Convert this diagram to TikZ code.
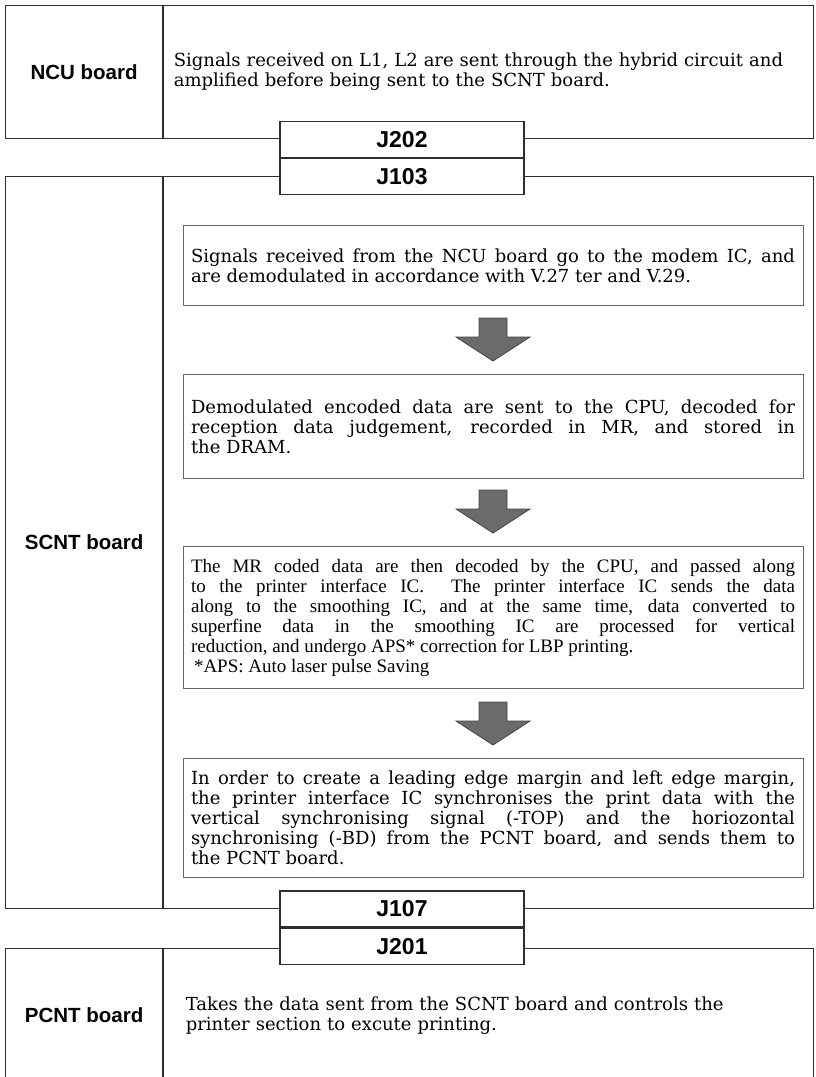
\documentclass[tikz,border=0pt]{standalone}
\usepackage{fontspec}
\setmainfont{DejaVu Serif}
\setsansfont{Liberation Sans}
\newfontfamily\timesfont{Liberation Serif}
\usetikzlibrary{positioning}

\definecolor{boardline}{HTML}{2E2E2E}
\definecolor{boxline}{HTML}{666666}
\definecolor{arrowgrey}{HTML}{6B6B6B}
\definecolor{arrowedge}{HTML}{454545}

\begin{document}
\begin{tikzpicture}[x=1pt, y=-1pt,
    boardname/.style={draw=boardline, line width=1.2pt, minimum width=157pt, inner sep=0pt, anchor=north west, font=\sffamily\bfseries\fontsize{20.5}{24}\selectfont},
    boardbody/.style={draw=boardline, line width=1.2pt, minimum width=650pt, inner xsep=10pt, text width=630pt, align=left, font=\fontsize{18}{20}\selectfont},
    jack/.style={draw=boardline, line width=1.2pt, fill=white, minimum width=244pt, minimum height=36pt, inner sep=0pt, font=\sffamily\bfseries\fontsize{23}{26}\selectfont},
    stepbox/.style={draw=boxline, line width=1pt, minimum width=620pt, inner xsep=8pt, text width=604pt, align=justify, anchor=north, font=\fontsize{18}{20}\selectfont},
    flowarrow/.pic={\fill[arrowgrey, draw=arrowedge, line width=0.8pt] (-14,0) -- (14,0) -- (14,19) -- (37,19) -- (0,43) -- (-37,19) -- (-14,19) -- cycle;}
]
  \useasboundingbox (0,0) rectangle (816,1077);
  \fill[white] (0,0) rectangle (816,1077);
  \clip (0,0) rectangle (816,1077);

  % Boards
  \node[boardname, minimum height=133pt] (ncuname) at (5,5) {NCU board};
  \node[boardbody, minimum height=133pt, right=0pt of ncuname] (ncu) {Signals received on L1, L2 are sent through the hybrid circuit and\\amplified before being sent to the SCNT board.};

  \node[boardname, minimum height=732pt] (scntname) at (5,176) {SCNT board};
  \node[boardbody, minimum height=732pt, right=0pt of scntname] (scnt) {};

  \node[boardname, minimum height=134pt] (pcntname) at (5,948) {PCNT board};
  \node[boardbody, minimum height=134pt, inner xsep=22pt, text width=606pt, right=0pt of pcntname] (pcnt) {Takes the data sent from the SCNT board and controls the\\printer section to excute printing.};

  % Connectors
  \node[jack] (j202) at (402,139.5) {J202};
  \node[jack, below=0pt of j202] (j103) {J103};
  \node[jack] (j107) at (402,909) {J107};
  \node[jack, below=0pt of j107] (j201) {J201};

  % Processing steps
  \node[stepbox, minimum height=80pt] (demod) at (493,225) {\parfillskip=0pt \leftskip=6pt Signals received from the NCU board go to the modem IC, and\linebreak are demodulated in accordance with V.27 ter and V.29.};
  \pic at (493,318) {flowarrow};
  \node[stepbox, minimum height=104pt] (decode) at (493,374) {\rightskip=40pt \leftskip=3pt Demodulated encoded data are sent to the CPU, decoded for\linebreak reception data judgement, recorded in MR, and stored in\linebreak the DRAM.};
  \pic at (493,490) {flowarrow};
  \node[stepbox, minimum height=142pt, font=\timesfont\fontsize{19}{20}\selectfont] (smooth) at (493,546) {\rightskip=24pt \leftskip=3pt The MR coded data are then decoded by the CPU, and passed along\linebreak to the printer interface IC.\ \ The printer interface IC sends the data\linebreak along to the smoothing IC, and at the same time, data converted to\linebreak superfine data in the smoothing IC are processed for vertical\linebreak reduction, and undergo APS* correction for LBP printing.\\\hspace*{3pt}*APS: Auto laser pulse Saving};
  \pic at (493,702) {flowarrow};
  \node[stepbox, minimum height=119pt] (sync) at (493,758) {\rightskip=17pt \leftskip=6pt In order to create a leading edge margin and left edge margin,\linebreak the printer interface IC synchronises the print data with the\linebreak vertical synchronising signal (-TOP) and the horiozontal\linebreak synchronising (-BD) from the PCNT board, and sends them to\linebreak the PCNT board.};

\end{tikzpicture}
\end{document}
